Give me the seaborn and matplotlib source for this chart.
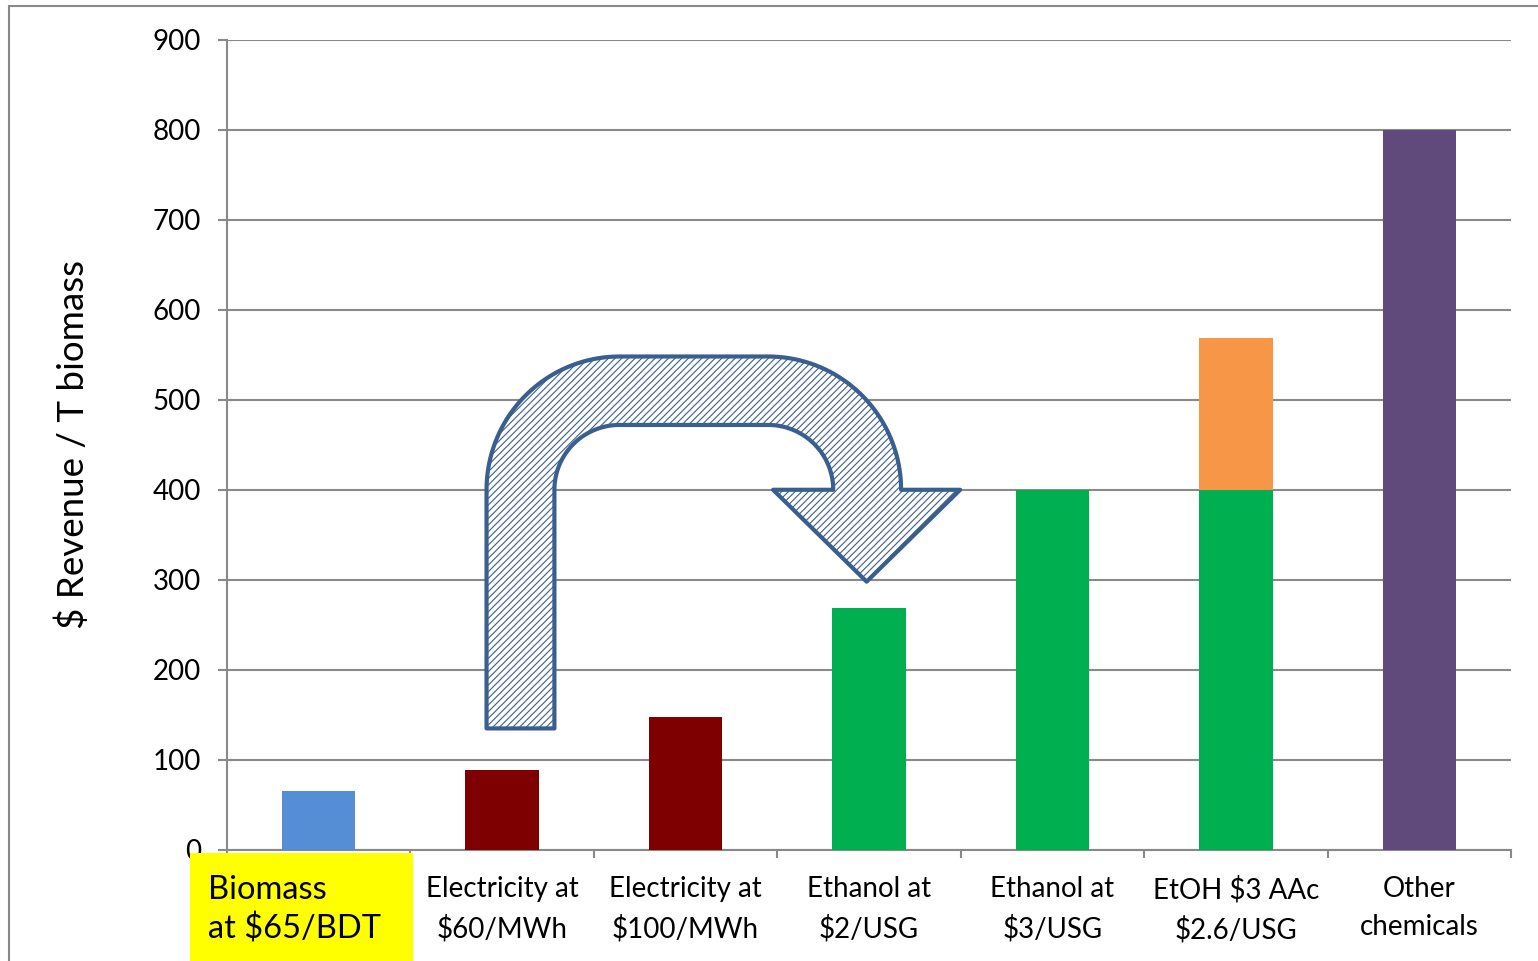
import matplotlib
matplotlib.use("Agg")
import matplotlib.pyplot as plt
import seaborn as sns
import pandas as pd
import numpy as np
from matplotlib.path import Path
from matplotlib.patches import PathPatch, Rectangle
from matplotlib.transforms import blended_transform_factory

# ---------------- data ----------------
categories = ["Biomass\nat $65/BDT", "Electricity at\n$60/MWh", "Electricity at\n$100/MWh",
              "Ethanol at\n$2/USG", "Ethanol at\n$3/USG", "EtOH $3 AAc\n$2.6/USG",
              "Other\nchemicals"]
base_values = [65, 89, 148, 269, 400, 400, 800]
top_values = [0, 0, 0, 0, 0, 168, 0]
base_colors = ["#558ED5", "#7F0000", "#7F0000", "#00B050", "#00B050", "#00B050", "#604A7B"]
top_color = "#F79646"
y_ticks = [0, 100, 200, 300, 400, 500, 600, 700, 800, 900]
y_label = "$ Revenue / T biomass"

GRID = "#898989"
ARROW = "#3A5F8F"

sns.set_theme(style="white")
plt.rcParams["font.family"] = ["Lato", "DejaVu Sans"]
plt.rcParams["hatch.linewidth"] = 0.8
plt.rcParams["text.color"] = "black"
plt.rcParams["axes.labelcolor"] = "black"
plt.rcParams["xtick.labelcolor"] = "black"
plt.rcParams["ytick.labelcolor"] = "black"

fig = plt.figure(figsize=(15.38, 9.61), dpi=100)
W, H = 1538, 961
ax = fig.add_axes([227 / W, 111 / H, (1511 - 227) / W, (850 - 39.5) / H])

df = pd.DataFrame({"cat": categories, "base": base_values,
                   "total": [b + t for b, t in zip(base_values, top_values)],
                   "top": top_values})
df_top = df[df["top"] > 0]

# stacked top part (drawn as full height, covered by base part)
sns.barplot(data=df_top, x="cat", y="total", order=categories, color=top_color,
            saturation=1, width=0.4, linewidth=0, ax=ax, zorder=3)
sns.barplot(data=df, x="cat", y="base", order=categories, hue="cat",
            palette=base_colors, legend=False, saturation=1, width=0.4,
            linewidth=0, ax=ax, zorder=3)

ax.set_xlim(-0.5, len(categories) - 0.5)
ax.set_ylim(0, 900)
ax.set_yticks(y_ticks)
ax.yaxis.grid(True, color=GRID, linewidth=1.5)
ax.set_axisbelow(True)

for s in ["top", "right"]:
    ax.spines[s].set_visible(False)
for s in ["left", "bottom"]:
    ax.spines[s].set_color(GRID)
    ax.spines[s].set_linewidth(1.5)

ax.tick_params(axis="y", length=6.5, width=1.5, color=GRID, direction="out",
               labelsize=20, pad=12, left=True, labelcolor="black")
ax.set_xticks(np.arange(-0.5, len(categories), 1), minor=True)
ax.tick_params(axis="x", which="major", length=0, labelsize=20, pad=19,
               labelcolor="black")
ax.tick_params(axis="x", which="minor", length=5.5, width=1.5, color=GRID,
               direction="out", bottom=True)

ax.set_xlabel("")
labels = ["" if i == 0 else c for i, c in enumerate(categories)]
ax.set_xticks(range(len(categories)))
ax.set_xticklabels(labels)
for t in ax.get_xticklabels():
    t.set_linespacing(1.55)

ax.set_ylabel(y_label, fontsize=26.5, va="center", color="black")
ax.yaxis.set_label_coords((73 - 227) / 1284, 0.5)

# highlighted first category label
trans = blended_transform_factory(ax.transData, ax.transAxes)
box = Rectangle((190 / W, 0), (413 - 190) / W, (961 - 853) / H,
                transform=fig.transFigure, facecolor="#FFFF00", edgecolor="none",
                zorder=10, clip_on=False)
ax.add_artist(box)
ax.text(-0.5 + (208 - 227) / 183.4, -0.031, categories[0], transform=trans,
        ha="left", va="top", fontsize=23.5, linespacing=1.33, zorder=11,
        clip_on=False, color="black")

# curved hatched arrow (annotation)
cy = 400
clx, crx = 1.64, 2.45
rxo, ryo = 0.725, 148
rxi, ryi = 0.355, 72
yb = 135
hl, hr, htx, hty = 2.477, 3.497, 2.987, 298

def arc(cx, rx, ry, a0, a1, n=40):
    t = np.linspace(a0, a1, n)
    return list(zip(cx + rx * np.cos(t), cy + ry * np.sin(t)))

pts = [(clx - rxo, yb)]
pts += arc(clx, rxo, ryo, np.pi, np.pi / 2)
pts += arc(crx, rxo, ryo, np.pi / 2, 0)
pts += [(hr, cy), (htx, hty), (hl, cy), (crx + rxi, cy)]
pts += arc(crx, rxi, ryi, 0, np.pi / 2)
pts += arc(clx, rxi, ryi, np.pi / 2, np.pi)
pts += [(clx - rxi, yb), (clx - rxo, yb)]
codes = [Path.MOVETO] + [Path.LINETO] * (len(pts) - 2) + [Path.CLOSEPOLY]
arrow = PathPatch(Path(pts, codes), facecolor="white", edgecolor=ARROW,
                  hatch="/////", linewidth=3, joinstyle="round", zorder=5)
ax.add_patch(arrow)

# outer frame
fig.patches.append(Rectangle((9 / W, -0.1), 1.2, (955 / H) + 0.1,
                             transform=fig.transFigure, fill=False,
                             edgecolor=GRID, linewidth=1.5))

fig.savefig("out.png", dpi=100)
